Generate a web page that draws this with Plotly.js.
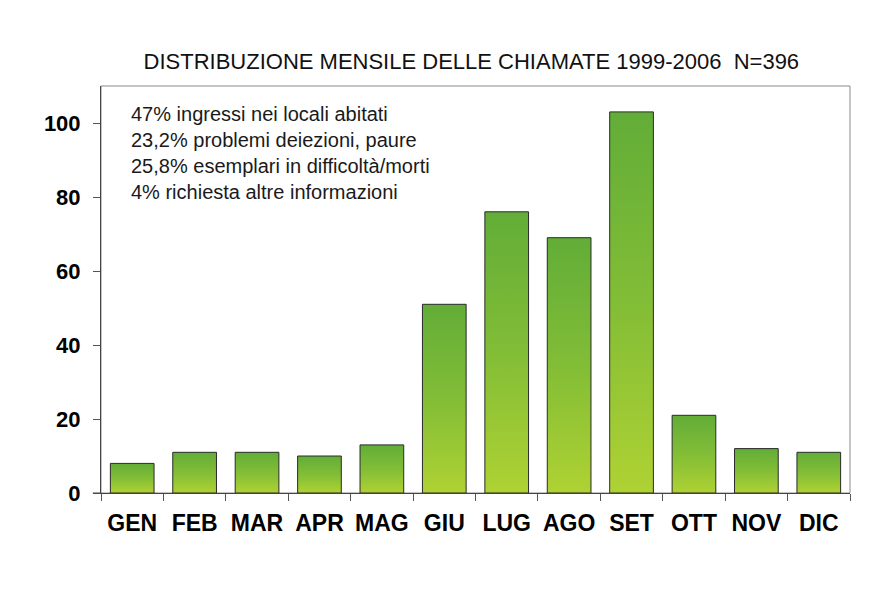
<!DOCTYPE html>
<html>
<head>
<meta charset="utf-8">
<script src="https://cdn.plot.ly/plotly-3.0.1.min.js"></script>
<style>html,body{margin:0;padding:0;background:#fff;}#chart{width:881px;height:596px;}</style>
</head>
<body>
<div id="chart"></div>
<script>
const months = ["GEN","FEB","MAR","APR","MAG","GIU","LUG","AGO","SET","OTT","NOV","DIC"];
const calls = [8, 11, 11, 10, 13, 51, 76, 69, 103, 21, 12, 11];
const yTicks = [0, 20, 40, 60, 80, 100];
const notes = [
  "47% ingressi nei locali abitati",
  "23,2% problemi deiezioni, paure",
  "25,8% esemplari in difficoltà/morti",
  "4% richiesta altre informazioni"
];
const chartTitle = "DISTRIBUZIONE MENSILE DELLE CHIAMATE 1999-2006\u00a0\u00a0N=396";

const trace = {
  type: "bar",
  x: months,
  y: calls,
  marker: {color: "#8cc23a", line: {color: "#2a2a2a", width: 1}},
  hoverinfo: "x+y"
};

const layout = {
  width: 881, height: 596,
  paper_bgcolor: "#ffffff", plot_bgcolor: "#ffffff",
  margin: {l: 101, r: 31, t: 86, b: 103},
  bargap: 0.3,
  showlegend: false,
  font: {family: "Liberation Sans, Arial, sans-serif", color: "#111"},
  title: {text: chartTitle, x: 0.535, xanchor: "center", y: 0.897, yanchor: "middle",
          font: {size: 22, color: "#111", family: "Liberation Sans, Arial, sans-serif"}},
  xaxis: {
    type: "category",
    showline: true, linecolor: "#444", linewidth: 1,
    ticks: "outside", ticklen: 7, tickcolor: "#555", tickson: "boundaries",
    tickangle: 0, automargin: false,
    ticklabelstandoff: 9,
    tickfont: {size: 23, family: "Liberation Sans, Arial, sans-serif", color: "#000", weight: "bold"},
    showgrid: false, zeroline: false, fixedrange: true
  },
  yaxis: {
    range: [0, 110],
    tickvals: yTicks,
    showline: true, linecolor: "#444", linewidth: 1,
    ticks: "outside", ticklen: 7, tickcolor: "#555",
    ticklabelstandoff: 8, automargin: false,
    tickfont: {size: 22, family: "Liberation Sans, Arial, sans-serif", color: "#000", weight: "bold"},
    showgrid: false, zeroline: false, fixedrange: true
  },
  shapes: [
    {type: "rect", xref: "paper", yref: "paper", x0: 0, x1: 1, y0: 0, y1: 1,
     line: {color: "#8a8a8a", width: 1}, layer: "below"},
    {type: "line", xref: "paper", yref: "paper", x0: -0.011, x1: 0, y0: 0, y1: 0,
     line: {color: "#444", width: 1}}
  ],
  annotations: [{
    xref: "paper", yref: "paper", x: 0.038, y: 0.962, xanchor: "left", yanchor: "top",
    align: "left", showarrow: false,
    text: notes.join("<br>"),
    font: {size: 20, color: "#1a1a1a", family: "Liberation Sans, Arial, sans-serif"}
  }]
};

Plotly.newPlot("chart", [trace], layout, {displayModeBar: false, staticPlot: true}).then(function(gd){
  const svg = gd.querySelector("svg.main-svg");
  let defs = svg.querySelector("defs");
  if (!defs) { defs = document.createElementNS("http://www.w3.org/2000/svg","defs"); svg.insertBefore(defs, svg.firstChild); }
  const g = document.createElementNS("http://www.w3.org/2000/svg","linearGradient");
  g.setAttribute("id","barGrad");
  g.setAttribute("x1","0"); g.setAttribute("y1","0"); g.setAttribute("x2","0"); g.setAttribute("y2","1");
  [["0","#62ad38"],["0.5","#82bd36"],["1","#afd233"]].forEach(function(s){
    const st = document.createElementNS("http://www.w3.org/2000/svg","stop");
    st.setAttribute("offset", s[0]); st.setAttribute("stop-color", s[1]);
    g.appendChild(st);
  });
  defs.appendChild(g);
  gd.querySelectorAll(".bars .point path").forEach(function(p){ p.style.fill = "url(#barGrad)"; });
});
</script>
</body>
</html>
